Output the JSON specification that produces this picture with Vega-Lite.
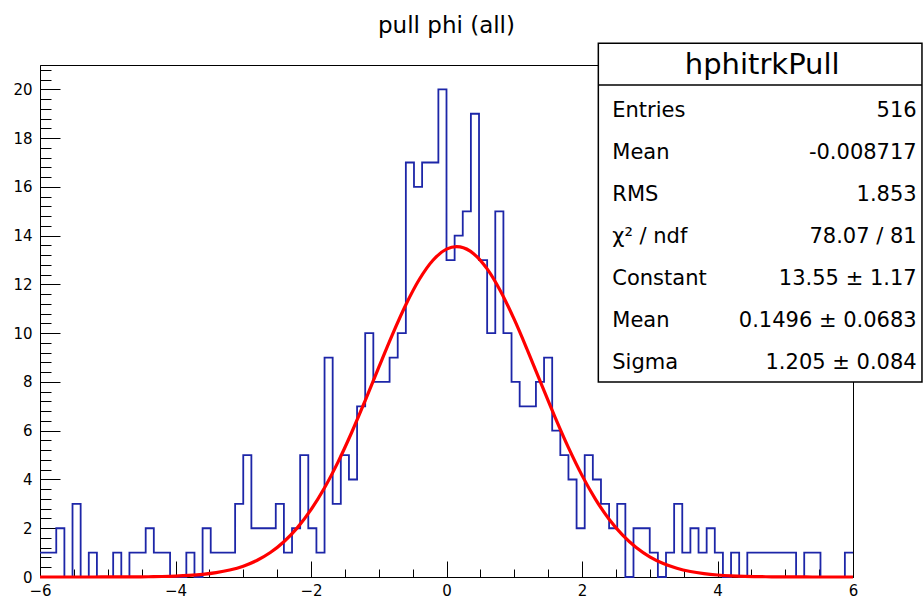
{
  "$schema": "https://vega.github.io/schema/vega-lite/v6.json",
  "width": 813,
  "height": 512,
  "autosize": "none",
  "padding": {"left": 40, "top": 65, "right": 71, "bottom": 21},
  "background": "white",
  "title": {"text": "pull phi (all)", "font": "DejaVu Sans", "fontSize": 23, "fontWeight": "normal", "color": "#000", "anchor": "middle", "baseline": "alphabetic", "frame": "group", "offset": 12, "dy": 25},
  "config": {
    "view": {"stroke": "#000", "strokeWidth": 1},
    "axis": {"grid": false, "domainColor": "#000", "tickColor": "#000", "labelColor": "#000", "labelFont": "DejaVu Sans", "labelFontSize": 15, "tickWidth": 1, "domainWidth": 1}
  },
  "datasets": {
    "hist": [{"lo":-6,"n":1},{"lo":-5.88,"n":1},{"lo":-5.76,"n":2},{"lo":-5.64,"n":0},{"lo":-5.52,"n":3},{"lo":-5.4,"n":0},{"lo":-5.28,"n":1},{"lo":-5.16,"n":0},{"lo":-5.04,"n":0},{"lo":-4.92,"n":1},{"lo":-4.8,"n":0},{"lo":-4.68,"n":1},{"lo":-4.56,"n":1},{"lo":-4.44,"n":2},{"lo":-4.32,"n":1},{"lo":-4.2,"n":1},{"lo":-4.08,"n":0},{"lo":-3.96,"n":0},{"lo":-3.84,"n":1},{"lo":-3.72,"n":0},{"lo":-3.6,"n":2},{"lo":-3.48,"n":1},{"lo":-3.36,"n":1},{"lo":-3.24,"n":1},{"lo":-3.12,"n":3},{"lo":-3,"n":5},{"lo":-2.88,"n":2},{"lo":-2.76,"n":2},{"lo":-2.64,"n":2},{"lo":-2.52,"n":3},{"lo":-2.4,"n":1},{"lo":-2.28,"n":2},{"lo":-2.16,"n":5},{"lo":-2.04,"n":2},{"lo":-1.92,"n":1},{"lo":-1.8,"n":9},{"lo":-1.68,"n":3},{"lo":-1.56,"n":5},{"lo":-1.44,"n":4},{"lo":-1.32,"n":7},{"lo":-1.2,"n":10},{"lo":-1.08,"n":8},{"lo":-0.96,"n":8},{"lo":-0.84,"n":9},{"lo":-0.72,"n":10},{"lo":-0.6,"n":17},{"lo":-0.48,"n":16},{"lo":-0.36,"n":17},{"lo":-0.24,"n":17},{"lo":-0.12,"n":20},{"lo":0,"n":13},{"lo":0.12,"n":14},{"lo":0.24,"n":15},{"lo":0.36,"n":19},{"lo":0.48,"n":13},{"lo":0.6,"n":10},{"lo":0.72,"n":15},{"lo":0.84,"n":10},{"lo":0.96,"n":8},{"lo":1.08,"n":7},{"lo":1.2,"n":7},{"lo":1.32,"n":8},{"lo":1.44,"n":9},{"lo":1.56,"n":6},{"lo":1.68,"n":5},{"lo":1.8,"n":4},{"lo":1.92,"n":2},{"lo":2.04,"n":5},{"lo":2.16,"n":4},{"lo":2.28,"n":3},{"lo":2.4,"n":2},{"lo":2.52,"n":3},{"lo":2.64,"n":0},{"lo":2.76,"n":2},{"lo":2.88,"n":2},{"lo":3,"n":1},{"lo":3.12,"n":0},{"lo":3.24,"n":1},{"lo":3.36,"n":3},{"lo":3.48,"n":1},{"lo":3.6,"n":2},{"lo":3.72,"n":1},{"lo":3.84,"n":2},{"lo":3.96,"n":1},{"lo":4.08,"n":0},{"lo":4.2,"n":1},{"lo":4.32,"n":0},{"lo":4.44,"n":1},{"lo":4.56,"n":1},{"lo":4.68,"n":1},{"lo":4.8,"n":1},{"lo":4.92,"n":1},{"lo":5.04,"n":1},{"lo":5.16,"n":0},{"lo":5.28,"n":1},{"lo":5.4,"n":1},{"lo":5.52,"n":0},{"lo":5.64,"n":0},{"lo":5.76,"n":0},{"lo":5.88,"n":1},{"lo":6,"n":1}],
    "fit": [{"x":-6,"f":0},{"x":-5.8,"f":0},{"x":-5.6,"f":0.0002},{"x":-5.4,"f":0.0003},{"x":-5.2,"f":0.0007},{"x":-5,"f":0.0015},{"x":-4.8,"f":0.0029},{"x":-4.6,"f":0.0057},{"x":-4.4,"f":0.0109},{"x":-4.2,"f":0.0201},{"x":-4,"f":0.036},{"x":-3.8,"f":0.063},{"x":-3.6,"f":0.107},{"x":-3.4,"f":0.177},{"x":-3.2,"f":0.285},{"x":-3,"f":0.445},{"x":-2.8,"f":0.678},{"x":-2.6,"f":1.003},{"x":-2.4,"f":1.445},{"x":-2.2,"f":2.025},{"x":-2,"f":2.76},{"x":-1.8,"f":3.66},{"x":-1.6,"f":4.722},{"x":-1.4,"f":5.927},{"x":-1.2,"f":7.237},{"x":-1,"f":8.596},{"x":-0.8,"f":9.933},{"x":-0.6,"f":11.166},{"x":-0.4,"f":12.211},{"x":-0.2,"f":12.992},{"x":0,"f":13.446},{"x":0.1496,"f":13.55},{"x":0.2,"f":13.538},{"x":0.4,"f":13.261},{"x":0.6,"f":12.636},{"x":0.8,"f":11.713},{"x":1,"f":10.564},{"x":1.2,"f":9.267},{"x":1.4,"f":7.909},{"x":1.6,"f":6.567},{"x":1.8,"f":5.304},{"x":2,"f":4.168},{"x":2.2,"f":3.186},{"x":2.4,"f":2.369},{"x":2.6,"f":1.714},{"x":2.8,"f":1.206},{"x":3,"f":0.826},{"x":3.2,"f":0.55},{"x":3.4,"f":0.357},{"x":3.6,"f":0.225},{"x":3.8,"f":0.138},{"x":4,"f":0.082},{"x":4.2,"f":0.048},{"x":4.4,"f":0.027},{"x":4.6,"f":0.0148},{"x":4.8,"f":0.0079},{"x":5,"f":0.0041},{"x":5.2,"f":0.0021},{"x":5.4,"f":0.001},{"x":5.6,"f":0.0005},{"x":5.8,"f":0.0002},{"x":6,"f":0.0001}],
    "stats": [{"i":0,"label":"Entries","value":"516"},{"i":1,"label":"Mean","value":"-0.008717"},{"i":2,"label":"RMS","value":"1.853"},{"i":3,"label":"χ² / ndf","value":"78.07 / 81"},{"i":4,"label":"Constant","value":"13.55 ± 1.17"},{"i":5,"label":"Mean","value":"0.1496 ± 0.0683"},{"i":6,"label":"Sigma","value":"1.205 ± 0.084"}],
    "head": [{"name":"hphitrkPull"}]
  },
  "resolve": {"scale": {"y": "independent"}, "axis": {"x": "independent", "y": "independent"}},
  "layer": [
    {
      "data": {"name": "hist"},
      "mark": {"type": "line", "interpolate": "step-after", "color": "#1d26a8", "strokeWidth": 1.8},
      "encoding": {
        "x": {"field": "lo", "type": "quantitative", "scale": {"domain": [-6, 6], "nice": false, "zero": false},
              "axis": {"title": null, "orient": "bottom", "values": [-6,-4,-2,0,2,4,6], "tickSize": -16, "labelPadding": 22, "labelFlush": false, "labelOverlap": false}},
        "y": {"field": "n", "type": "quantitative", "scale": {"domain": [0, 21], "nice": false, "zero": true},
              "axis": {"title": null, "orient": "left", "values": [0,2,4,6,8,10,12,14,16,18,20], "tickSize": -20, "labelPadding": 28, "labelFlush": false, "labelOverlap": false}}
      }
    },
    {
      "data": {"name": "fit"},
      "mark": {"type": "line", "interpolate": "monotone", "color": "#ff0000", "strokeWidth": 3.2},
      "encoding": {
        "x": {"field": "x", "type": "quantitative", "scale": {"domain": [-6, 6], "nice": false, "zero": false},
              "axis": {"title": null, "orient": "bottom", "values": [-6,-5.5,-5,-4.5,-4,-3.5,-3,-2.5,-2,-1.5,-1,-0.5,0,0.5,1,1.5,2,2.5,3,3.5,4,4.5,5,5.5,6], "tickSize": -8, "labels": false, "domain": false}},
        "y": {"field": "f", "type": "quantitative", "scale": {"domain": [0, 21], "nice": false, "zero": true},
              "axis": {"title": null, "orient": "left", "values": [0,0.4,0.8,1.2,1.6,2,2.4,2.8,3.2,3.6,4,4.4,4.8,5.2,5.6,6,6.4,6.8,7.2,7.6,8,8.4,8.8,9.2,9.6,10,10.4,10.8,11.2,11.6,12,12.4,12.8,13.2,13.6,14,14.4,14.8,15.2,15.6,16,16.4,16.8,17.2,17.6,18,18.4,18.8,19.2,19.6,20,20.4,20.8], "tickSize": -11, "labels": false, "domain": false}}
      }
    },
    {
      "data": {"name": "head"},
      "mark": {"type": "rect", "fill": "white", "stroke": "#000", "strokeWidth": 1.5},
      "encoding": {
        "x": {"datum": 2.241, "type": "quantitative", "scale": {"domain": [-6, 6], "nice": false, "zero": false}, "axis": null},
        "x2": {"datum": 7.018},
        "y": {"datum": -1.605, "type": "quantitative", "scale": {"domain": [-1.088, 11.102], "reverse": true, "nice": false, "zero": false}, "axis": null},
        "y2": {"datum": 6.46}
      }
    },
    {
      "data": {"name": "head"},
      "mark": {"type": "rule", "stroke": "#000", "strokeWidth": 1.5},
      "encoding": {
        "x": {"datum": 2.241, "type": "quantitative", "scale": {"domain": [-6, 6], "nice": false, "zero": false}, "axis": null},
        "x2": {"datum": 7.018},
        "y": {"datum": -0.612, "type": "quantitative", "scale": {"domain": [-1.088, 11.102], "reverse": true, "nice": false, "zero": false}, "axis": null}
      }
    },
    {
      "data": {"name": "head"},
      "mark": {"type": "text", "font": "DejaVu Sans", "fontSize": 29, "align": "center", "baseline": "middle", "color": "#000"},
      "encoding": {
        "x": {"datum": 4.66, "type": "quantitative", "scale": {"domain": [-6, 6], "nice": false, "zero": false}, "axis": null},
        "y": {"datum": -1.088, "type": "quantitative", "scale": {"domain": [-1.088, 11.102], "reverse": true, "nice": false, "zero": false}, "axis": null},
        "text": {"field": "name"}
      }
    },
    {
      "data": {"name": "stats"},
      "mark": {"type": "text", "font": "DejaVu Sans", "fontSize": 21, "align": "left", "baseline": "middle", "color": "#000"},
      "encoding": {
        "x": {"datum": 2.447, "type": "quantitative", "scale": {"domain": [-6, 6], "nice": false, "zero": false}, "axis": null},
        "y": {"field": "i", "type": "quantitative", "scale": {"domain": [-1.088, 11.102], "reverse": true, "nice": false, "zero": false}, "axis": null},
        "text": {"field": "label"}
      }
    },
    {
      "data": {"name": "stats"},
      "mark": {"type": "text", "font": "DejaVu Sans", "fontSize": 21, "align": "right", "baseline": "middle", "color": "#000"},
      "encoding": {
        "x": {"datum": 6.94, "type": "quantitative", "scale": {"domain": [-6, 6], "nice": false, "zero": false}, "axis": null},
        "y": {"field": "i", "type": "quantitative", "scale": {"domain": [-1.088, 11.102], "reverse": true, "nice": false, "zero": false}, "axis": null},
        "text": {"field": "value"}
      }
    }
  ]
}
